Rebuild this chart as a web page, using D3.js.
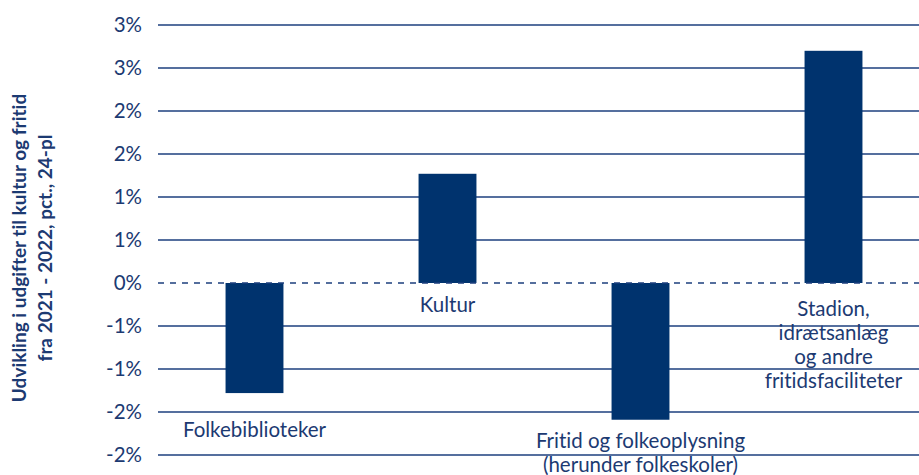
<!DOCTYPE html>
<html>
<head>
<meta charset="utf-8">
<script src="https://cdn.jsdelivr.net/npm/d3@7"></script>
<style>
  body { margin: 0; background: #fff; }
  text { font-family: Lato, "Open Sans", sans-serif; fill: #1c3a72; font-variant-ligatures: none; }
</style>
</head>
<body>
<script>
// categories and values (pct.)
var categories = ["Folkebiblioteker", "Kultur", "Fritid og folkeoplysning", "Stadion"];
var labelLines = [
  ["Folkebiblioteker"],
  ["Kultur"],
  ["Fritid og folkeoplysning", "(herunder folkeskoler)"],
  ["Stadion,", "idrætsanlæg", "og andre", "fritidsfaciliteter"]
];
var values = [-1.28, 1.27, -1.59, 2.70];
var tickValues = [-2, -1.5, -1, -0.5, 0, 0.5, 1, 1.5, 2, 2.5, 3];
var yTitle = ["Udvikling i udgifter til kultur og fritid", "fra 2021 - 2022, pct., 24-pl"];

var width = 919,
    height = 475;

var margin = {top: 25, right: -11, bottom: 20, left: 158};

var svg = d3.select("body").append("svg")
    .attr("width", width)
    .attr("height", height);

var x = d3.scaleBand()
    .domain(categories)
    .range([margin.left, width - margin.right])
    .paddingInner(0.7)
    .paddingOuter(0.35);

var y = d3.scaleLinear()
    .domain([-2, 3])
    .range([height - margin.bottom, margin.top]);

// gridlines
svg.append("g")
  .selectAll("line")
  .data(tickValues.filter(function(d) { return d !== 0; }))
  .enter().append("line")
    .attr("x1", margin.left)
    .attr("x2", width - margin.right)
    .attr("y1", function(d) { return y(d); })
    .attr("y2", function(d) { return y(d); })
    .style("stroke", "#1d3f7e")
    .style("stroke-width", 1.6);

// tick labels (rounded like the original)
svg.append("g")
  .selectAll("text")
  .data(tickValues)
  .enter().append("text")
    .attr("x", margin.left - 16)
    .attr("y", function(d) { return y(d); })
    .attr("dy", "0.35em")
    .attr("text-anchor", "end")
    .style("font-size", "20.5px")
    .text(function(d) {
      var r = d < 0 ? -Math.round(-d + 0.0001) : Math.round(d);
      return r + "%";
    });

// bars
svg.append("g")
  .selectAll("rect")
  .data(values)
  .enter().append("rect")
    .attr("x", function(d, i) { return x(categories[i]); })
    .attr("width", x.bandwidth())
    .attr("y", function(d) { return y(Math.max(0, d)); })
    .attr("height", function(d) { return Math.abs(y(d) - y(0)); })
    .style("fill", "#00336e");

// zero line
svg.append("line")
    .attr("x1", margin.left)
    .attr("x2", width - margin.right)
    .attr("y1", y(0))
    .attr("y2", y(0))
    .style("stroke", "#1d3f7e")
    .style("stroke-width", 1.4)
    .style("stroke-dasharray", "6,6");

// category labels under the bar end (or under zero for positive bars)
var labelGap = [44, 29, 28, 33];
var labels = svg.append("g")
  .selectAll("text")
  .data(values)
  .enter().append("text")
    .attr("text-anchor", "middle")
    .style("font-size", "20.5px")
    .attr("transform", function(d, i) {
      return "translate(" + (x(categories[i]) + x.bandwidth() / 2) + "," + (y(Math.min(0, d)) + labelGap[i]) + ")";
    });

labels.selectAll("tspan")
  .data(function(d, i) { return labelLines[i]; })
  .enter().append("tspan")
    .attr("x", 0)
    .attr("y", function(d, j) { return j * 24; })
    .text(function(d) { return d; });

// y axis title
var title = svg.append("text")
    .attr("transform", "translate(26,248) rotate(-90)")
    .attr("text-anchor", "middle")
    .style("font-size", "19px")
    .style("font-weight", "bold");

title.selectAll("tspan")
  .data(yTitle)
  .enter().append("tspan")
    .attr("x", 0)
    .attr("y", function(d, i) { return i * 26; })
    .text(function(d) { return d; });
</script>
</body>
</html>
